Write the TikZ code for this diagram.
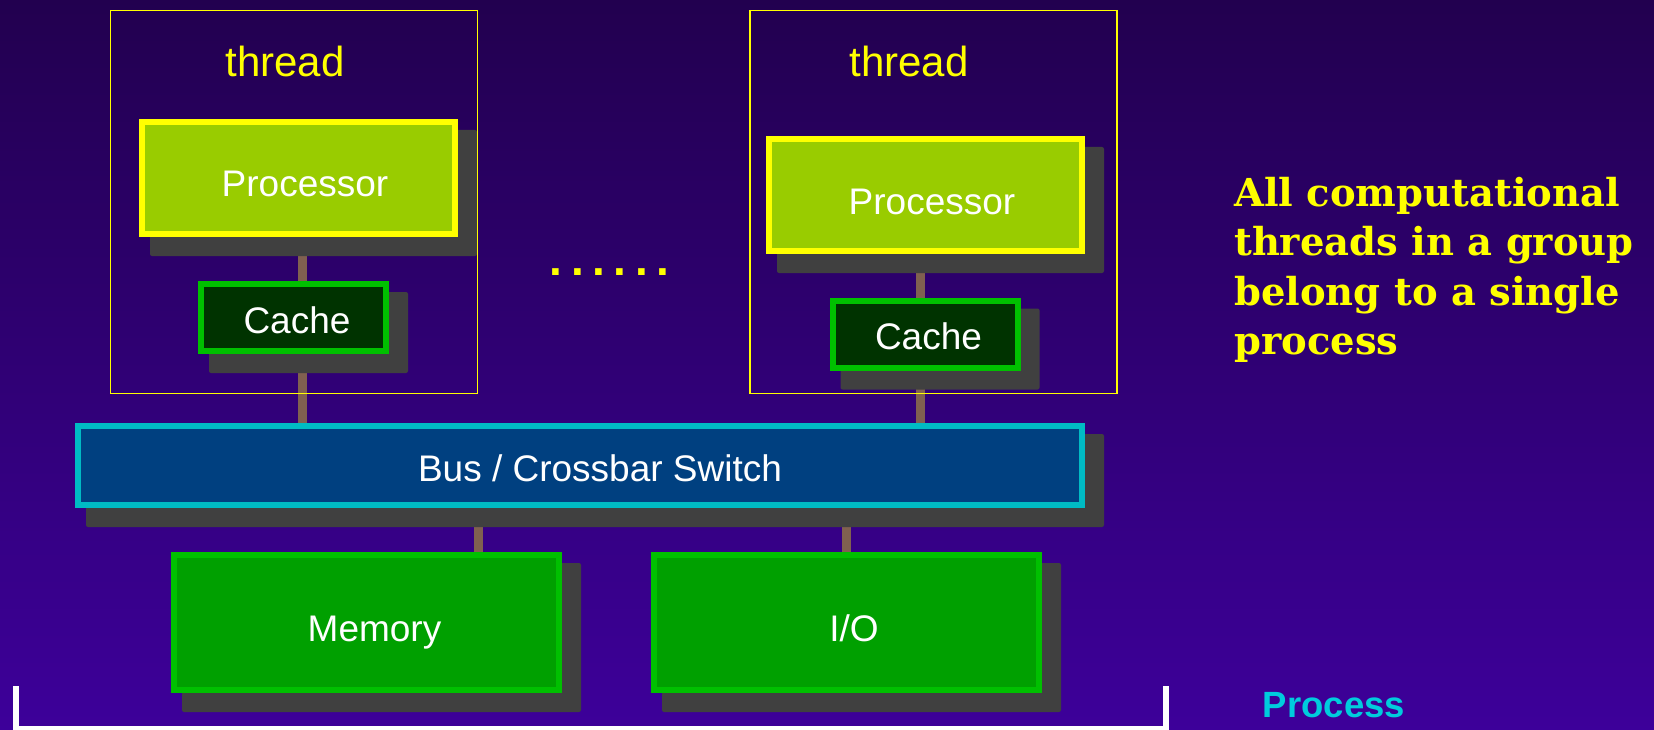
\documentclass[tikz,border=0pt]{standalone}
\usepackage{fontspec}
\setmainfont{Liberation Sans}
\newfontfamily\notefont{DejaVu Serif}

\pgfdeclarelayer{backdrop}
\pgfdeclarelayer{links}
\pgfdeclarelayer{shades}
\pgfsetlayers{backdrop,links,shades,main}

\definecolor{bgtop}{HTML}{22004F}
\definecolor{bgbot}{HTML}{3D009A}
\definecolor{procfill}{HTML}{99CC00}
\definecolor{yel}{HTML}{FFFF00}
\definecolor{cachefill}{HTML}{003300}
\definecolor{greenedge}{HTML}{00C000}
\definecolor{busfill}{HTML}{004080}
\definecolor{busedge}{HTML}{00BBC4}
\definecolor{memfill}{HTML}{00A000}
\definecolor{shadowc}{HTML}{404040}
\definecolor{linkc}{HTML}{806050}
\definecolor{labelcyan}{HTML}{00CCDD}

\newcommand\dotfont{\bfseries\fontsize{46}{50}\selectfont\frenchspacing\spaceskip 8.6pt\relax}

\begin{document}
\begin{tikzpicture}[x=1pt,y=-1pt,
  box/.style={line width=6pt, inner sep=0pt},
  lbl/.style={text=white, inner sep=0pt, font=\fontsize{37}{44}\selectfont},
  procbox/.style={box, fill=procfill, draw=yel, minimum width=313pt, minimum height=112pt},
  cachebox/.style={box, fill=cachefill, draw=greenedge, minimum width=185pt, minimum height=67pt},
  busbox/.style={box, fill=busfill, draw=busedge, minimum width=1004pt, minimum height=79pt},
  membox/.style={box, fill=memfill, draw=greenedge, minimum width=385pt, minimum height=135pt},
  frame/.style={draw=yel, line width=1.6pt, inner sep=0pt, minimum width=367pt, minimum height=383pt},
  framelabel/.style={text=yel, anchor=base, inner sep=0pt, font=\fontsize{42}{50}\selectfont},
  link/.style={draw=linkc, line width=9pt},
  shade/.style={fill=shadowc, rounded corners=2pt}
]
\useasboundingbox (0,0) rectangle (1654,730);

% backdrop gradient
\begin{pgfonlayer}{backdrop}
  \fill[top color=bgtop, bottom color=bgbot] (0,0) rectangle (1654,730);
\end{pgfonlayer}

% thread frames
\node[frame] (thr1) at (294,202) {};
\node[frame] (thr2) at (933.5,202) {};
\node[framelabel] (tl1) at (285,77) {thread};
\node[framelabel] (tl2) at (909,77) {thread};

% processors and caches
\node[procbox, label={[lbl,xshift=6.5pt,yshift=-6pt]center:Processor}] (proc1) at (298.5,178) {};
\node[procbox, label={[lbl,xshift=6.5pt,yshift=-6.5pt]center:Processor}] (proc2) at (925.5,195) {};
\node[cachebox, label={[lbl,xshift=3.5pt,yshift=-2.5pt]center:Cache}] (cache1) at (293.5,317.5) {};
\node[cachebox, label={[lbl,xshift=3.5pt,yshift=-2.5pt]center:Cache}] (cache2) at (925,334) {};

% interconnect, memory and I/O
\node[busbox, label={[lbl,xshift=20pt,yshift=-3pt]center:Bus / Crossbar Switch}] (bus) at (580,465.5) {};
\node[membox, label={[lbl,xshift=8pt,yshift=-10pt]center:Memory}] (mem) at (366.5,622.5) {};
\node[membox, label={[lbl,xshift=7.5pt,yshift=-6pt]center:I/O}] (io) at (846.5,622.5) {};

% ellipsis between the threads
\node[text=yel, anchor=base, inner sep=0pt, font=\dotfont] (dots) at (609.5,275) {. . . . . .};

% side note
\node[anchor=north west, align=left, inner sep=0pt, text=yel,
      font=\notefont\bfseries\fontsize{38.5}{49.5}\selectfont] (note) at (1234,177)
  {All computational\\threads in a group\\belong to a single\\process};

% process bracket and its label
\draw[white, line width=6pt] (16,686) -- (16,729) -- (1166,729) -- (1166,686);
\node[text=labelcyan, anchor=base, inner sep=0pt, font=\bfseries\fontsize{36.5}{44}\selectfont] (proc) at (1334,717) {Process};

% drop shadows
\begin{pgfonlayer}{shades}
  \foreach \n in {proc1,proc2,cache1,cache2,bus,mem,io}
    \fill[shade] ([shift={(11,11)}]\n.north west) rectangle ([shift={(19,19)}]\n.south east);
\end{pgfonlayer}

% connectors
\coordinate (c1) at (302,0);
\coordinate (c2) at (920,0);
\coordinate (cm) at (478,0);
\coordinate (ci) at (846,0);
\begin{pgfonlayer}{links}
  \draw[link] (proc1.south -| c1) -- (cache1.north -| c1);
  \draw[link] (cache1.south -| c1) -- (bus.north -| c1);
  \draw[link] (proc2.south -| c2) -- (cache2.north -| c2);
  \draw[link] (cache2.south -| c2) -- (bus.north -| c2);
  \draw[link] (bus.south -| cm) -- (mem.north -| cm);
  \draw[link] (bus.south -| ci) -- (io.north -| ci);
\end{pgfonlayer}
\end{tikzpicture}
\end{document}
